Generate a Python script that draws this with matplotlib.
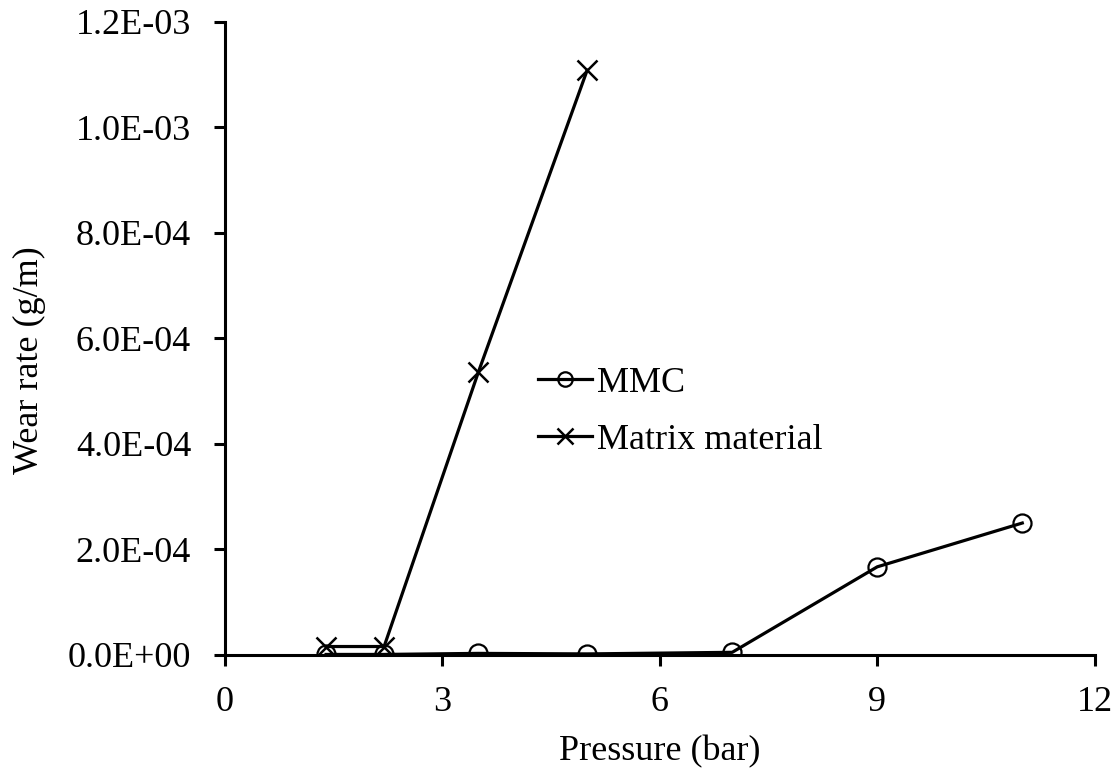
import matplotlib
matplotlib.use("Agg")
import matplotlib.pyplot as plt
import numpy as np

plt.rcParams['font.family'] = ['Liberation Serif', 'DejaVu Serif']

pressure_mmc = [1.4, 2.2, 3.5, 5, 7, 9, 11]
wear_mmc = [1e-6, 1e-6, 3e-6, 2e-6, 5e-6, 1.67e-4, 2.50e-4]

pressure_matrix = [1.4, 2.2, 3.5, 5]
wear_matrix = [1.6e-5, 1.6e-5, 5.36e-4, 1.108e-3]

x_ticks = [0, 3, 6, 9, 12]
y_ticks = [0, 2e-4, 4e-4, 6e-4, 8e-4, 1e-3, 1.2e-3]

fig = plt.figure(figsize=(11.2, 7.71), dpi=100)
ax = fig.add_axes([0.2005, 0.1505, 0.777, 0.8214])

ax.plot(pressure_mmc, wear_mmc, color="black", linewidth=2.3, marker='o',
        markersize=13, fillstyle='none', markeredgewidth=1.6, label="MMC")
ax.plot(pressure_matrix, wear_matrix, color="black", linewidth=2.3, marker='x',
        markersize=14, markeredgewidth=1.8, label="Matrix material")

ax.set_xlim(0, 12)
ax.set_ylim(0, 1.2e-3)
ax.set_xticks(x_ticks)
ax.set_yticks(y_ticks)
ax.set_yticklabels(["%.1E" % v for v in y_ticks])
ax.tick_params(axis='both', labelsize=26, width=2.2, length=8, direction='out')
ax.tick_params(axis='y', pad=16)
ax.tick_params(axis='x', pad=14)

for side in ["top", "right"]:
    ax.spines[side].set_visible(False)
for side in ["left", "bottom"]:
    ax.spines[side].set_linewidth(2.2)

ax.set_xlabel("Pressure (bar)", fontsize=26, labelpad=12)
ax.set_ylabel("Wear rate (g/m)", fontsize=26)
ax.yaxis.set_label_coords(-0.205, 0.466)

ax.legend(loc="upper left", bbox_to_anchor=(0.36, 0.455), frameon=False,
          fontsize=26, handlelength=1.5, handletextpad=0.15, labelspacing=0.65,
          borderpad=0, borderaxespad=0, markerscale=0.8)

fig.savefig("out.png", dpi=100)
